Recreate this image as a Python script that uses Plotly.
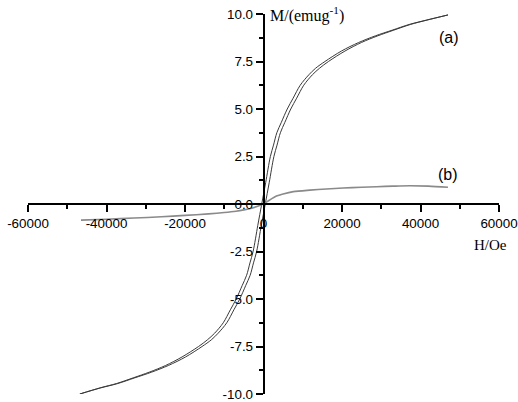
import plotly.graph_objects as go

# ---- tick labels ----
x_tick_vals = [-60000, -40000, -20000, 0, 20000, 40000, 60000]
x_tick_text = ["-60000", "-40000", "-20000", "0", "20000", "40000", "60000"]
y_tick_vals = [-10, -7.5, -5, -2.5, 0, 2.5, 5, 7.5, 10]
y_tick_text = ["-10.0", "-7.5", "-5.0", "-2.5", "0.0", "2.5", "5.0", "7.5", "10.0"]

# ---- loop (a): descending branch (field from +H to -H) ----
a_desc_H = [47000, 41500, 37150, 32800, 28500, 24250, 19850, 15650, 13300, 11550, 9350,
            7550, 6050, 4550, 3400, 2550, 1750, 550, -450, -1450, -2650, -3450,
            -4300, -5450, -6950, -8450, -10250, -12450, -14300, -16550, -20750, -24950,
            -29100, -33200, -37450, -41700, -46800]
a_desc_M = [9.95, 9.68, 9.45, 9.15, 8.85, 8.5, 8.05, 7.5, 7.15, 6.8, 6.25,
            5.57, 5.0, 4.3, 3.75, 3.1, 2.5, 1.12, 0.0, -1.12, -2.5, -3.1,
            -3.75, -4.3, -5.0, -5.57, -6.25, -6.8, -7.15, -7.5, -8.05, -8.5,
            -8.85, -9.15, -9.45, -9.68, -10.0]

# ---- loop (a): ascending branch (field from -H to +H) ----
a_asc_H = [-46800, -41500, -37150, -32800, -28500, -24250, -19850, -15650, -13300, -11550,
           -9350, -7550, -6050, -4550, -3400, -2550, -1750, -550, 450, 1450, 2650,
           3450, 4300, 5450, 6950, 8450, 10250, 12450, 14300, 16550, 20750, 24950, 29100,
           33200, 37450, 41700, 47000]
a_asc_M = [-10.0, -9.68, -9.45, -9.15, -8.85, -8.5, -8.05, -7.5, -7.15, -6.8,
           -6.25, -5.57, -5.0, -4.3, -3.75, -3.1, -2.5, -1.12, 0.0, 1.12, 2.5,
           3.1, 3.75, 4.3, 5.0, 5.57, 6.25, 6.8, 7.15, 7.5, 8.05, 8.5, 8.85,
           9.15, 9.45, 9.68, 9.95]

# ---- loop (b) ----
b_H = [-46500, -40000, -33000, -26000, -20000, -14000, -10000, -7000, -5000, -3000,
       -1500, 0, 1500, 3300, 5000, 7600, 11800, 16000, 20300, 25000, 28800, 33000,
       37300, 42000, 47000]
b_M = [-0.85, -0.8, -0.74, -0.67, -0.6, -0.52, -0.45, -0.38, -0.31, -0.22,
       -0.12, 0.0, 0.2, 0.42, 0.53, 0.65, 0.73, 0.79, 0.84, 0.88, 0.91, 0.94,
       0.96, 0.94, 0.88]

fig = go.Figure()
line_a = dict(color="#3a3a3a", width=1, shape="spline", smoothing=0.9)
fig.add_trace(go.Scatter(x=a_desc_H, y=a_desc_M, mode="lines", line=line_a, showlegend=False))
fig.add_trace(go.Scatter(x=a_asc_H, y=a_asc_M, mode="lines", line=line_a, showlegend=False))
fig.add_trace(go.Scatter(x=b_H, y=b_M, mode="lines",
                         line=dict(color="#8a8a8a", width=1.6, shape="spline", smoothing=0.8),
                         showlegend=False))

tickfont = dict(family="Liberation Sans, Arial, sans-serif", size=13.4, color="black")
common = dict(showline=True, linecolor="black", linewidth=1.5, ticks="outside",
              ticklen=7, tickwidth=1.5, tickcolor="black", showgrid=False,
              zeroline=False, anchor="free", position=0.5, tickfont=tickfont,
              automargin=False, ticklabeloverflow="allow")

fig.update_layout(
    width=518, height=402, autosize=False,
    margin=dict(l=28, r=19, t=14, b=8),
    paper_bgcolor="white", plot_bgcolor="white",
    xaxis=dict(range=[-60000, 60000], tickmode="array", tickvals=x_tick_vals,
               ticktext=x_tick_text,
               minor=dict(ticks="outside", ticklen=4, tickwidth=1.5, tickcolor="black",
                          dtick=10000, tick0=0, showgrid=False),
               **common),
    yaxis=dict(range=[-10, 10], tickmode="array", tickvals=y_tick_vals,
               ticktext=y_tick_text,
               minor=dict(ticks="outside", ticklen=4, tickwidth=1.5, tickcolor="black",
                          dtick=1.25, tick0=0, showgrid=False),
               **common),
    annotations=[
        dict(text="M/(emug<sup>-1</sup>)", xref="paper", yref="paper", x=0.5096, y=1.0,
             xanchor="left", yanchor="middle", showarrow=False,
             font=dict(family="Liberation Serif, Times New Roman, serif", size=16, color="black")),
        dict(text="H/Oe", xref="paper", yref="paper", x=0.983, y=0.393,
             xanchor="center", yanchor="middle", showarrow=False,
             font=dict(family="Liberation Serif, Times New Roman, serif", size=15, color="black")),
        dict(text="(a)", xref="paper", yref="paper", x=0.894, y=0.938,
             xanchor="center", yanchor="middle", showarrow=False,
             font=dict(family="Liberation Sans, Arial, sans-serif", size=16, color="black")),
        dict(text="(b)", xref="paper", yref="paper", x=0.892, y=0.577,
             xanchor="center", yanchor="middle", showarrow=False,
             font=dict(family="Liberation Sans, Arial, sans-serif", size=16, color="black")),
    ],
)

fig.write_html("out.html")
